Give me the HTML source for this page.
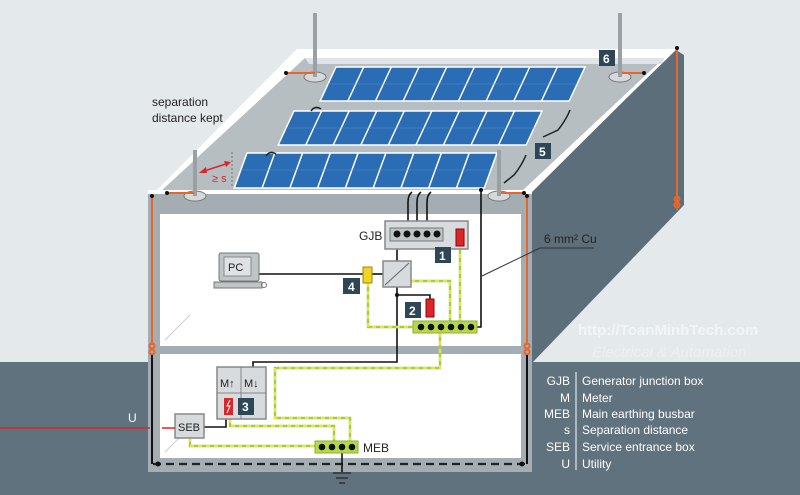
<!DOCTYPE html>
<html><head><meta charset="utf-8"><style>
html,body{margin:0;padding:0;background:#e4e9eb;}
svg{display:block;}
text{font-family:"Liberation Sans",sans-serif;}
</style></head><body>
<svg width="800" height="495" viewBox="0 0 800 495" xmlns="http://www.w3.org/2000/svg">
<defs>
<g id="yg"></g>
</defs>
<rect width="800" height="495" fill="#e4e9eb"/>
<!-- ground -->
<rect x="0" y="362" width="800" height="133" fill="#5f727d"/>
<!-- right side face -->
<polygon points="527,195 676,50 684,55 684,205 533,362 527,362" fill="#5b6e79"/>
<!-- roof -->
<polygon points="297,49 676,49 527,197 150,197" fill="#ffffff"/>
<polygon points="305,58 664,58 521,192 160,192" fill="#b6bec2"/>
<polygon points="305,58 664,58 662,64 309,64" fill="#dfe4e6"/>
<!-- front face -->
<rect x="148" y="190" width="384" height="282" fill="#a3adb2"/>
<rect x="148" y="190" width="384" height="4" fill="#ffffff"/>
<rect x="160" y="214" width="361" height="132" fill="#ffffff"/>
<rect x="160" y="354" width="361" height="104" fill="#ffffff"/>
<line x1="165" y1="340" x2="190" y2="315" stroke="#c8ced1" stroke-width="1"/>
<line x1="165" y1="452" x2="180" y2="437" stroke="#c8ced1" stroke-width="1"/>
<!-- solar panels -->
<g fill="#2b6db5" stroke="#ffffff" stroke-width="1.6">
<g transform="translate(336,67) skewX(-25)">
<rect x="0" y="0" width="249" height="34"/>
<path d="M27.7 0V34M55.3 0V34M83 0V34M110.7 0V34M138.3 0V34M166 0V34M193.7 0V34M221.3 0V34" fill="none"/>
</g>
<g transform="translate(294,111) skewX(-25)">
<rect x="0" y="0" width="248" height="34"/>
<path d="M27.6 0V34M55.1 0V34M82.7 0V34M110.2 0V34M137.8 0V34M165.3 0V34M192.9 0V34M220.4 0V34" fill="none"/>
</g>
<g transform="translate(247,153) skewX(-20)">
<rect x="0" y="0" width="250" height="35"/>
<path d="M27.8 0V35M55.6 0V35M83.3 0V35M111.1 0V35M138.9 0V35M166.7 0V35M194.4 0V35M222.2 0V35" fill="none"/>
</g>
</g>
<g stroke="#5a8fc9" stroke-width="0.8" opacity="0.6">
<line x1="328" y1="84" x2="577" y2="84"/><line x1="286" y1="128" x2="535" y2="128"/><line x1="241" y1="170" x2="490" y2="170"/>
</g>
<!-- panel inter connections -->
<g stroke="#222" stroke-width="1.5" fill="none">
<path d="M311 111 q4 -6 10 -2"/><path d="M266 156 q4 -6 10 -2"/>
<path d="M570 110 q-4 10 -12 20 l-15 7"/><path d="M526 155 q-4 10 -12 20 l-10 8"/>
</g>
<!-- air terminals -->
<g>
<ellipse cx="315" cy="77" rx="11" ry="5" fill="#d5d9db" stroke="#777"/>
<rect x="313" y="13" width="4" height="64" fill="#9aa0a3"/>
<ellipse cx="620" cy="77" rx="11" ry="5" fill="#d5d9db" stroke="#777"/>
<rect x="618" y="13" width="4" height="64" fill="#9aa0a3"/>
<ellipse cx="195" cy="196" rx="11" ry="5" fill="#d5d9db" stroke="#777"/>
<rect x="193" y="150" width="4" height="46" fill="#9aa0a3"/>
<ellipse cx="499" cy="196" rx="11" ry="5" fill="#d5d9db" stroke="#777"/>
<rect x="497" y="150" width="4" height="46" fill="#9aa0a3"/>
</g>
<!-- orange down conductors -->
<g stroke="#e8662a" stroke-width="2" fill="none">
<line x1="286" y1="73" x2="315" y2="73"/><line x1="622" y1="73" x2="644" y2="73"/>
<line x1="167" y1="193" x2="194" y2="193"/><line x1="501" y1="193" x2="524" y2="193"/>
<line x1="677" y1="48" x2="677" y2="210"/>
<line x1="152" y1="197" x2="152" y2="345"/>
<line x1="527" y1="197" x2="527" y2="345"/>
<circle cx="677" cy="199" r="2.5"/><circle cx="677" cy="205" r="2.5"/>
<circle cx="152" cy="346" r="2.5"/><circle cx="152" cy="352" r="2.5"/>
<circle cx="527" cy="346" r="2.5"/><circle cx="527" cy="352" r="2.5"/>
</g>
<g fill="#111"><circle cx="286" cy="73" r="2"/><circle cx="644" cy="73" r="2"/><circle cx="167" cy="193" r="2"/><circle cx="524" cy="193" r="2"/><circle cx="677" cy="48" r="2"/><circle cx="152" cy="196" r="2"/><circle cx="527" cy="196" r="2"/></g>
<line x1="152" y1="355" x2="152" y2="464" stroke="#111" stroke-width="2"/>
<line x1="527" y1="355" x2="527" y2="464" stroke="#111" stroke-width="2"/>
<line x1="153" y1="464" x2="526" y2="464" stroke="#222" stroke-width="2.2" stroke-dasharray="8,5"/>
<circle cx="158" cy="464" r="2.5" fill="#111"/><circle cx="522" cy="464" r="2.5" fill="#111"/>
<!-- separation arrow -->
<line x1="201" y1="172" x2="229" y2="163" stroke="#d9262b" stroke-width="1.5"/>
<polygon points="199,173 206,167 207,173" fill="#d9262b"/><polygon points="231,162 224,161 226,167" fill="#d9262b"/>
<line x1="232" y1="152" x2="232" y2="186" stroke="#666" stroke-width="0.8" stroke-dasharray="2,2"/>
<text x="212" y="182" font-size="11" fill="#d9262b">≥ s</text>
<text x="152" y="106" font-size="12" fill="#222">separation</text>
<text x="152" y="122" font-size="12" fill="#222">distance kept</text>
<!-- cables from panels -->
<g stroke="#111" stroke-width="1.6" fill="none">
<path d="M412 192 q-4 3 -4 10 V234"/><path d="M421 192 q-4 3 -4 10 V234"/><path d="M431 192 q-4 3 -4 10 V234"/>
<path d="M481 190 V327 H470"/>
<path d="M437 234 V226 H457 V230"/>
<path d="M397 234 V262"/>
<path d="M397 287 V362 H253 V367"/>
<path d="M397 295 H430 V300"/>
<path d="M259 274 H363"/><path d="M372 274 H383"/>
<path d="M204 427 H226 V419"/>
<path d="M342 447 V472"/>
</g>
<circle cx="481" cy="190" r="2" fill="#111"/><circle cx="397" cy="295" r="2" fill="#111"/>
<!-- green-yellow conductors -->
<g fill="none" stroke-width="2.4">
<g stroke="#9ccc54">
<path d="M460 246 V323"/><path d="M411 281 H450 V323"/><path d="M368 283 V327 H414"/>
<path d="M440 333 V368 H275 V418 H350 V442"/>
<path d="M230 419 V426 H334 V442"/>
<path d="M190 438 V446 H315"/>
</g>
<g stroke="#ece24a" stroke-dasharray="4,4">
<path d="M460 246 V323"/><path d="M411 281 H450 V323"/><path d="M368 283 V327 H414"/>
<path d="M440 333 V368 H275 V418 H350 V442"/>
<path d="M230 419 V426 H334 V442"/>
<path d="M190 438 V446 H315"/>
</g>
</g>
<!-- ground symbol -->
<g stroke="#333" stroke-width="1.5"><line x1="333" y1="473" x2="351" y2="473"/><line x1="336" y1="478" x2="348" y2="478"/><line x1="339" y1="483" x2="345" y2="483"/></g>
<!-- GJB -->
<rect x="385" y="221" width="83" height="28" fill="#d8dbdd" stroke="#888" stroke-width="1.5"/>
<rect x="390" y="228" width="53" height="13" fill="#bfc4c7" stroke="#777"/>
<g fill="#111"><circle cx="397" cy="234" r="3.5"/><circle cx="407" cy="234" r="3.5"/><circle cx="417" cy="234" r="3.5"/><circle cx="427" cy="234" r="3.5"/><circle cx="437" cy="234" r="3.5"/></g>
<rect x="456" y="229" width="8" height="17" fill="#d9262b" stroke="#900"/>
<text x="359" y="240" font-size="12" fill="#222">GJB</text>
<!-- inverter -->
<rect x="383" y="261" width="28" height="26" fill="#d8dbdd" stroke="#888" stroke-width="1.5"/>
<line x1="385" y1="285" x2="409" y2="263" stroke="#666"/>
<!-- yellow SPD -->
<rect x="363" y="267" width="9" height="16" fill="#f2d324" stroke="#9a8a10"/>
<!-- red SPD 2 -->
<rect x="426" y="299" width="8" height="18" fill="#d9262b" stroke="#900"/>
<!-- busbar -->
<rect x="413" y="321" width="64" height="12" fill="#b5d94a" stroke="#8ab030"/>
<g fill="#111"><circle cx="421" cy="327" r="3.3"/><circle cx="431" cy="327" r="3.3"/><circle cx="441" cy="327" r="3.3"/><circle cx="451" cy="327" r="3.3"/><circle cx="461" cy="327" r="3.3"/><circle cx="471" cy="327" r="3.3"/></g>
<!-- MEB -->
<rect x="315" y="441" width="43" height="12" fill="#b5d94a" stroke="#8ab030"/>
<g fill="#111"><circle cx="322" cy="447" r="3.3"/><circle cx="332" cy="447" r="3.3"/><circle cx="342" cy="447" r="3.3"/><circle cx="352" cy="447" r="3.3"/></g>
<text x="363" y="452" font-size="12" fill="#222">MEB</text>
<!-- meter -->
<rect x="217" y="367" width="49" height="52" fill="#d8dbdd" stroke="#888" stroke-width="1.5"/>
<line x1="241" y1="367" x2="241" y2="419" stroke="#888"/><line x1="217" y1="393" x2="266" y2="393" stroke="#888"/>
<text x="220" y="387" font-size="11" fill="#222">M↑</text><text x="244" y="387" font-size="11" fill="#222">M↓</text>
<rect x="224" y="398" width="9" height="17" fill="#d9262b"/>
<path d="M230 400 l-3 6 h3 l-3 7" stroke="#fff" stroke-width="1" fill="none"/>
<!-- SEB -->
<rect x="175" y="414" width="29" height="24" fill="#d8dbdd" stroke="#888" stroke-width="1.5"/>
<text x="178" y="431" font-size="11" fill="#222">SEB</text>
<line x1="0" y1="428" x2="150" y2="428" stroke="#d9262b" stroke-width="1.5"/>
<line x1="162" y1="428" x2="175" y2="428" stroke="#d9262b" stroke-width="1.5"/>
<text x="128" y="422" font-size="12" fill="#fff">U</text>
<!-- PC -->
<rect x="219" y="253" width="40" height="28" rx="2" fill="#bfc4c7" stroke="#777"/>
<rect x="224" y="257" width="27" height="19" fill="#dfe2e4" stroke="#888"/>
<text x="228" y="271" font-size="11" fill="#222">PC</text>
<rect x="214" y="282" width="48" height="6" fill="#bfc4c7" stroke="#777"/>
<circle cx="264" cy="285" r="2.5" fill="none" stroke="#777"/>
<!-- number boxes -->
<g fill="#2e4756"><rect x="435" y="247" width="16" height="16"/><rect x="405" y="302" width="16" height="16"/><rect x="238" y="398" width="16" height="17"/><rect x="343" y="278" width="17" height="16"/><rect x="535" y="143" width="16" height="16"/><rect x="599" y="50" width="16" height="16"/></g>
<g fill="#fff" font-size="12" font-weight="bold"><text x="439" y="260">1</text><text x="409" y="315">2</text><text x="242" y="411">3</text><text x="348" y="291">4</text><text x="539" y="156">5</text><text x="603" y="63">6</text></g>
<!-- 6mm2 label -->
<path d="M482 276 L540 248 H594" stroke="#333" stroke-width="1" fill="none"/>
<text x="544" y="243" font-size="12" fill="#222">6 mm² Cu</text>
<!-- watermark -->
<text x="578" y="335" font-size="15" fill="#ffffff" opacity="0.55" font-weight="bold">http://ToanMinhTech.com</text>
<text x="592" y="357" font-size="15" fill="#ffffff" opacity="0.35" font-style="italic">Electrical &amp; Automation</text>
<!-- legend -->
<line x1="576" y1="372" x2="576" y2="470" stroke="#fff" stroke-width="1"/>
<g fill="#fff" font-size="12">
<g text-anchor="end"><text x="570" y="385">GJB</text><text x="570" y="402">M</text><text x="570" y="418">MEB</text><text x="570" y="434">s</text><text x="570" y="451">SEB</text><text x="570" y="468">U</text></g>
<text x="582" y="385">Generator junction box</text><text x="582" y="402">Meter</text><text x="582" y="418">Main earthing busbar</text><text x="582" y="434">Separation distance</text><text x="582" y="451">Service entrance box</text><text x="582" y="468">Utility</text>
</g>
</svg>
</body></html>
